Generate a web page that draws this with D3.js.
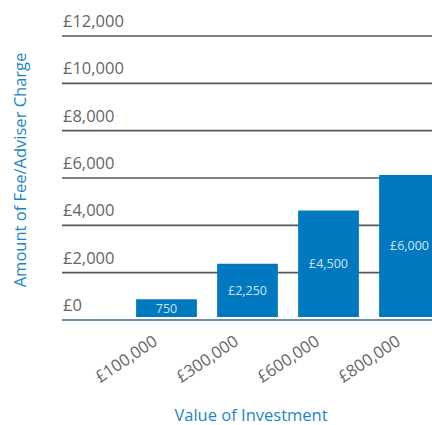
<!DOCTYPE html>
<html>
<head>
<meta charset="utf-8">
<script src="https://cdn.jsdelivr.net/npm/d3@7"></script>
<style>
  html, body { margin: 0; padding: 0; background: #fff; }
  svg { display: block; }
  text { font-family: "Open Sans", "Noto Sans", sans-serif; }
</style>
</head>
<body>
<svg id="chart" width="432" height="425"></svg>
<script>
const categories = ["£100,000", "£300,000", "£600,000", "£800,000"];
const fees = [750, 2250, 4500, 6000];
const barLabels = ["750", "£2,250", "£4,500", "£6,000"];
const yTicks = [0, 2000, 4000, 6000, 8000, 10000, 12000];
const yTickLabels = ["£0", "£2,000", "£4,000", "£6,000", "£8,000", "£10,000", "£12,000"];

const svg = d3.select("#chart");
const W = 432;

const y = d3.scaleLinear().domain([0, 12000]).range([320, 36]);
const yBar = d3.scaleLinear().domain([0, 12000]).range([317, 33]);
const x = d3.scaleBand().domain(categories).range([126, 450])
  .paddingInner(0.25).paddingOuter(0.125);

// gridlines + labels
const grid = svg.append("g");
yTicks.forEach((t, i) => {
  grid.append("line")
    .attr("x1", 62).attr("x2", W)
    .attr("y1", y(t)).attr("y2", y(t))
    .attr("stroke", t === 0 ? "#6f8f9e" : "#505a60")
    .attr("stroke-width", t === 0 ? 2.2 : 1.6);
  grid.append("text")
    .attr("x", 63).attr("y", y(t) - 9)
    .attr("fill", "#666")
    .attr("font-size", 16.5)
    .text(yTickLabels[i]);
});

// bars
svg.append("g").selectAll("rect")
  .data(fees)
  .join("rect")
  .attr("x", (d, i) => x(categories[i]))
  .attr("width", x.bandwidth())
  .attr("y", d => yBar(d))
  .attr("height", d => yBar(0) - yBar(d))
  .attr("fill", "#0079c1");

// bar labels
svg.append("g").selectAll("text")
  .data(fees)
  .join("text")
  .attr("x", (d, i) => x(categories[i]) + x.bandwidth() / 2)
  .attr("y", d => (yBar(d) + yBar(0)) / 2)
  .attr("dy", "0.35em")
  .attr("text-anchor", "middle")
  .attr("fill", "#cfe2f0")
  .attr("font-size", 12.5)
  .text((d, i) => barLabels[i]);

// x category labels
svg.append("g").selectAll("text")
  .data(categories)
  .join("text")
  .attr("transform", d => `translate(${x(d) + x.bandwidth() / 2 - 8},344) rotate(-34)`)
  .attr("text-anchor", "end")
  .attr("fill", "#666")
  .attr("font-size", 16.5)
  .text(d => d);

// axis titles
svg.append("text")
  .attr("x", 251).attr("y", 421)
  .attr("text-anchor", "middle")
  .attr("fill", "#1a86c8")
  .attr("font-size", 16.5)
  .text("Value of Investment");

svg.append("text")
  .attr("transform", "translate(26,170) rotate(-90)")
  .attr("text-anchor", "middle")
  .attr("fill", "#1a86c8")
  .attr("font-size", 16.5)
  .text("Amount of Fee/Adviser Charge");
</script>
</body>
</html>
